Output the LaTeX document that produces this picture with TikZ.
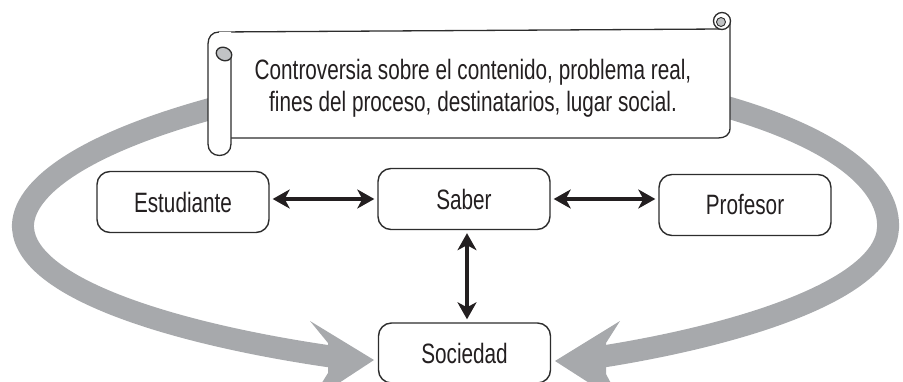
\documentclass[tikz,border=0pt]{standalone}
\usepackage{fontspec}
\setmainfont{Liberation Sans}[FakeStretch=0.74]
\usetikzlibrary{arrows.meta}
\definecolor{bigarrow}{RGB}{167,169,172}
\definecolor{inkline}{RGB}{45,45,45}
\definecolor{inktext}{RGB}{35,31,32}
\tikzset{
  rolebox/.style={draw=inkline, line width=1.4pt, rounded corners=13pt, fill=white,
    minimum width=172pt, minimum height=61pt, inner sep=0pt,
    font=\fontsize{28}{32}\selectfont, text=inktext},
  biglink/.style={draw=bigarrow, line width=22pt},
  bighead/.style={fill=bigarrow, draw=none},
  duo/.style={draw=inktext, line width=3.4pt,
    {Stealth[length=17pt,width=19pt,inset=5pt]}-{Stealth[length=17pt,width=19pt,inset=5pt]},
    shorten <=3pt, shorten >=3pt},
  scrollline/.style={draw=inkline, line width=1.3pt}
}
\begin{document}
\begin{tikzpicture}[x=1pt,y=-1pt]
\useasboundingbox (0,0) rectangle (903,382);
\clip (0,0) rectangle (903,382);
% big gray arrows
\draw[biglink] (245,100) .. controls (80,140) and (21,190) .. (23,228)
  .. controls (27,290) and (180,335) .. (334,357);
\fill[bighead] (374,360) -- (310,321) -- (328,343) -- (328,373) -- (310,402) -- cycle;
\draw[biglink] (712,103) .. controls (850,140) and (890,190) .. (888,228)
  .. controls (885,290) and (740,335) .. (600,357);
\fill[bighead] (555,361) -- (620,321) -- (606,343) -- (606,374) -- (622,404) -- cycle;
% scroll body
\fill[white] (219,32) -- (722,29) -- (730,29) -- (730,128)
  .. controls (730,135) and (725,138) .. (718,138) -- (231,138) -- (231,40) -- cycle;
\draw[scrollline] (219,32) -- (722,29);
\draw[scrollline] (730,21) -- (730,128) .. controls (730,135) and (725,138) .. (718,138) -- (231,138);
\draw[scrollline, fill=white] (722,21) circle (8.5);
\draw[scrollline, line width=0.9pt, fill=bigarrow!70] (721,22) circle (4.5);
% left roll
\fill[white] (208,44) .. controls (208,37) and (212,32) .. (219,32) -- (231,32)
  -- (231,144) .. controls (231,151) and (226,155.5) .. (219.5,155.5)
  .. controls (213,155.5) and (208,151) .. (208,144) -- cycle;
\draw[scrollline] (219,32) .. controls (212,32) and (208,37) .. (208,44)
  -- (208,144) .. controls (208,151) and (213,155.5) .. (219.5,155.5)
  .. controls (226,155.5) and (231,151) .. (231,144) -- (231,58);
\draw[scrollline, fill=bigarrow!70, rotate around={-25:(224,54)}] (224,54) ellipse (8 and 6.5);
\node[font=\fontsize{28}{32}\selectfont, text=inktext, align=center, inner sep=0pt]
  (topic) at (473,88) {Controversia sobre el contenido, problema real,\\fines del proceso, destinatarios, lugar social.};
% role boxes
\node[rolebox] (est) at (183,202) {Estudiante};
\node[rolebox] (sab) at (464,199) {Saber};
\node[rolebox] (prof) at (745,205) {Profesor};
\node[rolebox, minimum height=60pt] (soc) at (464.5,353) {Sociedad};
% black links
\draw[duo] (est.east |- sab.west) -- (sab.west);
\draw[duo] (sab.east) -- (sab.east -| prof.west);
\draw[duo] ([xshift=3pt]sab.south) -- ([xshift=3pt]sab.south |- soc.north);
\end{tikzpicture}
\end{document}
